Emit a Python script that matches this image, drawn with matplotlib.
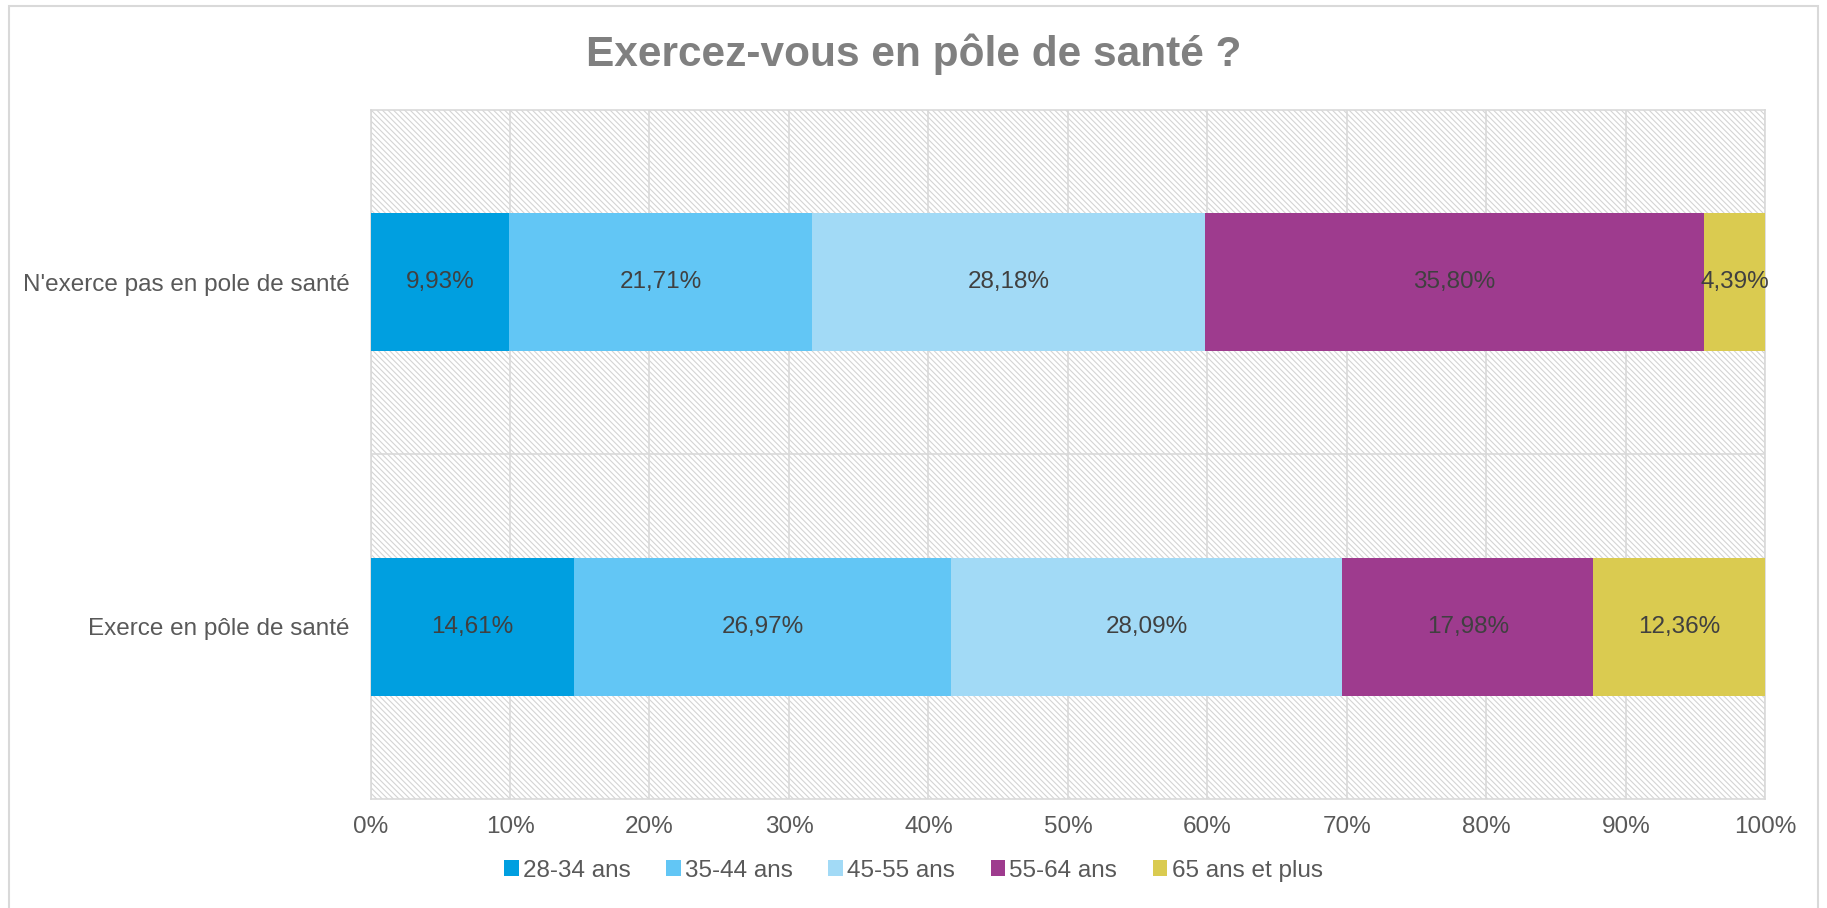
import matplotlib
matplotlib.use('agg')
import matplotlib.pyplot as plt
from matplotlib.patches import Rectangle, Patch
from matplotlib.ticker import FuncFormatter

plt.rcParams['font.family'] = ['Liberation Sans', 'DejaVu Sans']
plt.rcParams['hatch.linewidth'] = 0.8

categories = ["Exerce en pôle de santé", "N'exerce pas en pole de santé"]
age_groups = ["28-34 ans", "35-44 ans", "45-55 ans", "55-64 ans", "65 ans et plus"]
exerce = [14.61, 26.97, 28.09, 17.98, 12.36]
n_exerce_pas = [9.93, 21.71, 28.18, 35.80, 4.39]
colors = ["#009FE0", "#62C6F5", "#A2DAF6", "#9E3B8E", "#DACB50"]

series = [exerce, n_exerce_pas]

fig = plt.figure(figsize=(18.27, 9.08), dpi=100)
ax = fig.add_axes([0.2028, 0.120, 0.7635, 0.759])

# hatched background
bg = Rectangle((0, 0), 1, 1, transform=ax.transAxes, facecolor='white',
               edgecolor='#d4d4d4', hatch='\\' * 6, linewidth=0, zorder=0)
ax.add_patch(bg)

for i in range(len(age_groups)):
    lefts = [sum(s[:i]) for s in series]
    vals = [s[i] for s in series]
    ax.barh(range(len(categories)), vals, left=lefts, height=0.4,
            color=colors[i], zorder=3)
    for y, (l, v) in enumerate(zip(lefts, vals)):
        ax.text(l + v / 2, y, f"{v:.2f}%".replace('.', ','), ha='center',
                va='center', fontsize=17.5, color='#404040', zorder=4)

ax.set_xlim(0, 100)
ax.set_ylim(-0.5, 1.5)
ax.set_xticks(range(0, 101, 10))
ax.xaxis.set_major_formatter(FuncFormatter(lambda v, p: f"{v:.0f}%"))
ax.set_yticks(range(len(categories)))
ax.set_yticklabels(categories)
ax.set_yticks([0.5], minor=True)
ax.grid(axis='x', which='major', color='#d9d9d9', linewidth=1.2, zorder=1)
ax.grid(axis='y', which='minor', color='#d9d9d9', linewidth=1.2, zorder=1)
ax.set_axisbelow(True)
ax.tick_params(axis='both', which='both', length=0, labelsize=17.5,
               labelcolor='#595959')
ax.tick_params(axis='x', pad=12)
ax.tick_params(axis='y', pad=15)
for s in ax.spines.values():
    s.set_color('#d9d9d9')
    s.set_linewidth(1.2)

fig.text(0.5, 0.94, "Exercez-vous en pôle de santé ?", ha='center',
         va='center', fontsize=30.5, fontweight='bold', color='#808080')

handles = [Patch(facecolor=c, label=g) for c, g in zip(colors, age_groups)]
fig.legend(handles=handles, loc='center', bbox_to_anchor=(0.5, 0.041),
           ncol=5, frameon=False, fontsize=17.5, handlelength=0.6,
           handleheight=0.6, handletextpad=0.18, columnspacing=1.45,
           labelcolor='#595959')

fig.patches.append(Rectangle((9 / 1827, -0.01), 1809 / 1827, 1 - 6 / 908 + 0.01,
                             transform=fig.transFigure, fill=False,
                             edgecolor='#d9d9d9', linewidth=1.5))

fig.savefig('out.png', dpi=100)
